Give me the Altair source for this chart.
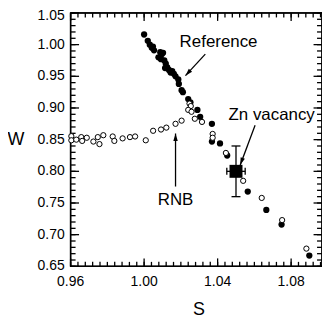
import altair as alt
import pandas as pd

# Reference (filled) points
ref_S = [1.000, 1.002, 1.0031, 1.0042, 1.0054, 1.0048, 1.0088, 1.0096, 1.0078, 1.0092,
         1.0103, 1.0110, 1.0118, 1.0126, 1.0114, 1.0135, 1.0144, 1.0153, 1.0162, 1.0171,
         1.0186, 1.0189, 1.0204, 1.0211, 1.0240, 1.0252, 1.0290, 1.0305, 1.0369, 1.0369,
         1.0413, 1.0452, 1.0564, 1.0665, 1.0748, 1.0899]
ref_W = [1.016, 1.006, 1.000, 0.995, 0.991, 0.997, 0.988, 0.985, 0.980, 0.977,
         0.987, 0.975, 0.970, 0.964, 0.963, 0.960, 0.956, 0.958, 0.954, 0.950,
         0.945, 0.938, 0.928, 0.925, 0.914, 0.909, 0.897, 0.886, 0.875, 0.847,
         0.844, 0.825, 0.768, 0.739, 0.716, 0.667]

# RNB (open) points
rnb_S = [0.9604, 0.9604, 0.9631, 0.9658, 0.9663, 0.9688, 0.9724, 0.9748, 0.9757, 0.9778,
         0.9829, 0.9838, 0.9883, 0.9923, 0.9951, 1.0009, 1.0049, 1.0092, 1.0121, 1.0171,
         1.0204, 1.0247, 1.0254, 1.0240, 1.0258, 1.0276, 1.0315, 1.0373, 1.0373, 1.0445,
         1.0539, 1.0640, 1.0751, 1.0883]
rnb_W = [0.8555, 0.849, 0.850, 0.854, 0.848, 0.853, 0.847, 0.854, 0.843, 0.857,
         0.855, 0.848, 0.852, 0.854, 0.855, 0.849, 0.864, 0.866, 0.869, 0.875,
         0.880, 0.907, 0.903, 0.897, 0.894, 0.883, 0.878, 0.859, 0.853, 0.829,
         0.785, 0.758, 0.723, 0.678]

# Zn vacancy
zn_S = [1.050]
zn_W = [0.800]
zn_dS = [0.005]
zn_dW = [0.040]

# Annotations
label_text = ["Reference", "Zn vacancy", "RNB"]
label_S = [1.0405, 1.0694, 1.0171]
label_W = [1.0035, 0.8884, 0.755]
arrow_S0 = [1.0333, 1.0604, 1.0171]
arrow_W0 = [0.985, 0.8727, 0.776]
arrow_S1 = [1.0225, 1.0523, 1.0171]
arrow_W1 = [0.951, 0.810, 0.8597]
arrow_angle = [222, 200, 0]

# Axes
S_MIN, S_MAX = 0.96, 1.0968
W_MIN, W_MAX = 0.65, 1.05
x_labels = [0.96, 1.00, 1.04, 1.08]
x_minor = [round(0.96 + 0.004 * i, 3) for i in range(35)]
y_labels = [0.65, 0.70, 0.75, 0.80, 0.85, 0.90, 0.95, 1.00, 1.05]
y_minor = [round(0.65 + 0.01 * i, 2) for i in range(41)]
x_title, y_title = "S", "W"
x_title_pos = 1.0298
y_title_pos = 0.85

W, H = 253, 255
FONT = "Liberation Sans"
DX = (S_MAX - S_MIN) / W   # data units per pixel
DY = (W_MAX - W_MIN) / H

xs = alt.Scale(domain=[S_MIN, S_MAX], nice=False, zero=False)
ys = alt.Scale(domain=[W_MIN, W_MAX], nice=False, zero=False)


def X(f="S"):
    return alt.X(f"{f}:Q", scale=xs, axis=None)


def Y(f="W"):
    return alt.Y(f"{f}:Q", scale=ys, axis=None)


ref_df = pd.DataFrame({"S": ref_S, "W": ref_W})
rnb_df = pd.DataFrame({"S": rnb_S, "W": rnb_W})
zn_df = pd.DataFrame({"S": zn_S, "W": zn_W})
lab_df = pd.DataFrame({"t": label_text, "S": label_S, "W": label_W})
head_df = pd.DataFrame({"S": arrow_S1, "W": arrow_W1, "a": arrow_angle})

# every straight black line segment goes into one rule layer (the same pattern as the arrows)
seg = []
for i in range(len(arrow_S0)):
    seg.append((arrow_S0[i], arrow_W0[i], arrow_S1[i], arrow_W1[i]))
for s, w, ds, dw in zip(zn_S, zn_W, zn_dS, zn_dW):
    seg.append((s, w - dw, s, w + dw))                      # vertical error bar
    seg.append((s - ds, w, s + ds, w))                      # horizontal error bar
    seg.append((s - 4.5 * DX, w - dw, s + 4.5 * DX, w - dw))  # caps
    seg.append((s - 4.5 * DX, w + dw, s + 4.5 * DX, w + dw))
    seg.append((s - ds, w - 3.5 * DY, s - ds, w + 3.5 * DY))
    seg.append((s + ds, w - 3.5 * DY, s + ds, w + 3.5 * DY))
# frame
seg.append((S_MIN, W_MIN, S_MAX, W_MIN))
seg.append((S_MIN, W_MAX, S_MAX, W_MAX))
seg.append((S_MIN, W_MIN, S_MIN, W_MAX))
seg.append((S_MAX, W_MIN, S_MAX, W_MAX))
# inward ticks
for vals, length in ((x_minor, 4.5), (x_labels, 8)):
    for v in vals:
        seg.append((v, W_MIN, v, W_MIN + length * DY))
        seg.append((v, W_MAX, v, W_MAX - length * DY))
for vals, length in ((y_minor, 5), (y_labels, 8.5)):
    for v in vals:
        seg.append((S_MIN, v, S_MIN + length * DX, v))
        seg.append((S_MAX, v, S_MAX - length * DX, v))
seg_df = pd.DataFrame(seg, columns=["S", "W", "S1", "W1"])

xlab_df = pd.DataFrame({"S": x_labels, "W": [W_MIN] * len(x_labels),
                        "t": [f"{v:.2f}" for v in x_labels]})
ylab_df = pd.DataFrame({"S": [S_MIN] * len(y_labels), "W": y_labels,
                        "t": [f"{v:.2f}" for v in y_labels]})
title_df = pd.DataFrame({"S": [x_title_pos, S_MIN], "W": [W_MIN, y_title_pos],
                         "t": [x_title, y_title]})

lines = alt.Chart(seg_df).mark_rule(color="black", strokeWidth=1.3).encode(
    x=X(), y=Y(), x2="S1:Q", y2="W1:Q")

ref_pts = alt.Chart(ref_df).mark_circle(color="black", size=40, opacity=1).encode(x=X(), y=Y())
rnb_pts = alt.Chart(rnb_df).mark_point(shape="circle", color="black", fill="white", filled=False,
                                       size=28, strokeWidth=1, opacity=1).encode(x=X(), y=Y())
zn_sq = alt.Chart(zn_df).mark_square(color="black", size=170, opacity=1).encode(x=X(), y=Y())

arr_head = alt.Chart(head_df).mark_point(
    shape="M0,0L-0.45,1.5L0.45,1.5Z", filled=True, color="black", size=100, opacity=1
).encode(x=X(), y=Y(), angle=alt.Angle("a:Q", scale=None))

labels = alt.Chart(lab_df).mark_text(font=FONT, fontSize=17, color="black").encode(
    x=X(), y=Y(), text="t:N")

xlabels = alt.Chart(xlab_df).mark_text(font=FONT, fontSize=14, color="black", dy=16,
                                       baseline="middle").encode(x=X(), y=Y(), text="t:N")
ylabels_main = alt.Chart(ylab_df).transform_filter("datum.W < 1.049").mark_text(
    font=FONT, fontSize=14, color="black", dx=-6, align="right", baseline="middle"
).encode(x=X(), y=Y(), text="t:N")
ylabels_top = alt.Chart(ylab_df).transform_filter("datum.W >= 1.049").mark_text(
    font=FONT, fontSize=14, color="black", dx=-6, dy=3, align="right", baseline="middle"
).encode(x=X(), y=Y(), text="t:N")
xtitle = alt.Chart(title_df).transform_filter(f"datum.t == '{x_title}'").mark_text(
    font=FONT, fontSize=18, color="black", dy=44, baseline="middle").encode(x=X(), y=Y(), text="t:N")
ytitle = alt.Chart(title_df).transform_filter(f"datum.t == '{y_title}'").mark_text(
    font=FONT, fontSize=18, color="black", dx=-55, baseline="middle").encode(x=X(), y=Y(), text="t:N")

chart = alt.layer(
    lines, ref_pts, rnb_pts, zn_sq, arr_head, labels,
    xlabels, ylabels_main, ylabels_top, xtitle, ytitle
).properties(
    width=W, height=H,
    background="white",
    autosize=alt.AutoSizeParams(type="none"),
    padding={"left": 63, "top": 4, "right": 0, "bottom": 52},
).configure_view(stroke="black", strokeWidth=1.5)

chart.save("out.html", embed_options={"renderer": "svg", "actions": False})
